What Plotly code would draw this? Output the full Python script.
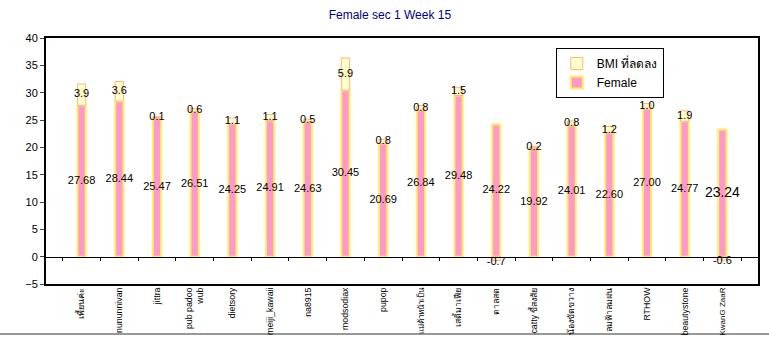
import plotly.graph_objects as go

categories = ["เพี้ยนค่ะ", "nununnivan", "jittra", "pub padoo<br>wub", "dietsory",
              "meiji_kawaii", "na8915", "modsodiax", "pupop", "แม่ค้าหน้าเป็น",
              "เสดิ้มาเฟีย", "ตาลสด", "catty ขี้สงสัย", "น้องขัดขวาง", "ลมฟ้าลมฝน",
              "RTHOW", "beautystone", "KwanG ZaaR"]
female = [27.68, 28.44, 25.47, 26.51, 24.25, 24.91, 24.63, 30.45, 20.69, 26.84,
          29.48, 24.22, 19.92, 24.01, 22.60, 27.00, 24.77, 23.24]
bmi_drop = [3.9, 3.6, 0.1, 0.6, 1.1, 1.1, 0.5, 5.9, 0.8, 0.8,
            1.5, -0.7, 0.2, 0.8, 1.2, 1.0, 1.9, -0.6]
y_ticks = [40, 35, 30, 25, 20, 15, 10, 5, 0, -5]

font_fam = "Liberation Sans, Arial, DejaVu Sans, Noto Sans, sans-serif"

# tick texts: the two longest names slightly smaller so they fit the page
long_names = {"แม่ค้าหน้าเป็น", "KwanG ZaaR"}
tick_text = [f'<span style="font-size:8px">{c}</span>' if c in long_names else c
             for c in categories]

fig = go.Figure()
fig.add_trace(go.Bar(x=categories, y=female, name="Female", width=0.22,
                     marker=dict(color="#FF99CC", line=dict(color="#FFEE66", width=2))))
fig.add_trace(go.Bar(x=categories, y=bmi_drop, name="BMI ที่ลดลง", width=0.22,
                     marker=dict(color="#FFFFCC", line=dict(color="#FFB380", width=1))))

# labels centred in each segment
f_sizes = [11] * len(female)
f_sizes[-1] = 14
fig.add_trace(go.Scatter(x=categories, y=[v / 2 for v in female], mode="text",
                         text=[f"{v:.2f}" for v in female], showlegend=False,
                         textfont=dict(size=f_sizes, color="black", family=font_fam),
                         hoverinfo="skip", cliponaxis=False))
b_mid = [f + b / 2 if b >= 0 else b / 2 - 0.6 for f, b in zip(female, bmi_drop)]
fig.add_trace(go.Scatter(x=categories, y=b_mid, mode="text",
                         text=[f"{v:.1f}" for v in bmi_drop], showlegend=False,
                         textfont=dict(size=11, color="black", family=font_fam),
                         hoverinfo="skip", cliponaxis=False))
# invisible trace for the zero-line category axis
fig.add_trace(go.Scatter(x=categories, y=[0] * len(categories), xaxis="x2",
                         mode="lines", line=dict(width=0), showlegend=False,
                         hoverinfo="skip"))

fig.update_layout(
    width=769, height=338,
    margin=dict(l=46, r=9, t=38, b=54),
    paper_bgcolor="white", plot_bgcolor="white",
    barmode="relative",
    font=dict(family=font_fam, size=11, color="black"),
    title=dict(text="Female sec 1 Week 15", x=0.507, xanchor="center",
               y=0.955, yanchor="middle",
               font=dict(size=12, color="#000080", family=font_fam)),
    showlegend=True,
    legend=dict(x=0.716, y=0.959, xanchor="left", yanchor="top",
                bordercolor="black", borderwidth=1, bgcolor="white",
                font=dict(size=12, family=font_fam), traceorder="reversed",
                tracegroupgap=0, itemwidth=30),
    xaxis=dict(type="category", showline=True, mirror=True, linewidth=2,
               linecolor="black", ticks="", tickangle=-90, showgrid=False,
               tickmode="array", tickvals=categories, ticktext=tick_text,
               tickfont=dict(size=8.8), automargin=False,
               ticklabelstandoff=-2),
    xaxis2=dict(type="category", overlaying="x", matches="x", anchor="free",
                position=5 / 45, side="bottom", showline=True, linewidth=1,
                linecolor="black", ticks="outside", ticklen=3, tickson="boundaries",
                tickcolor="black", showticklabels=False, showgrid=False),
    yaxis=dict(range=[-5, 40], tickvals=y_ticks, showline=True, mirror=True,
               linewidth=2, linecolor="black", ticks="outside", ticklen=4,
               showgrid=False, zeroline=False, tickfont=dict(size=11)),
)

# spreadsheet border below chart
fig.add_shape(type="line", xref="paper", yref="paper", x0=-0.1, x1=1.02,
              y0=-50 / 246, y1=-50 / 246, layer="below",
              line=dict(color="#333333", width=1))

fig.write_html("out.html")
